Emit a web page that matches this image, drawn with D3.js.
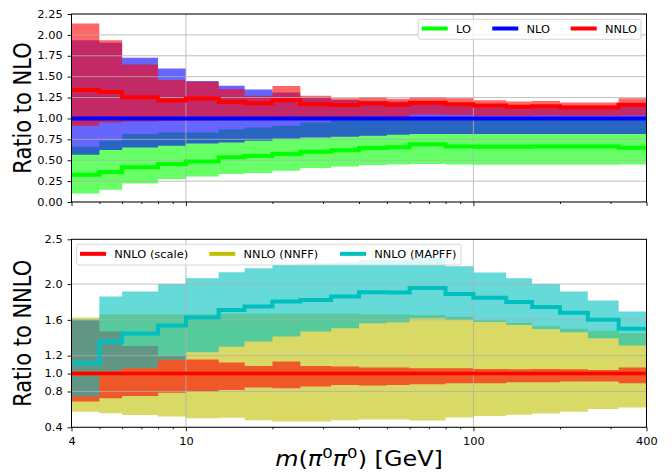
<!DOCTYPE html>
<html><head><meta charset="utf-8">
<script src="https://cdn.jsdelivr.net/npm/d3@7"></script>
<style>body{margin:0;background:#fff}svg{display:block}text{font-family:"DejaVu Sans",sans-serif}</style>
</head><body><svg id="c" width="672" height="475"></svg>
<script>
// ---- data ----
const binEdges = [4,5,6,8,10,13,16,20,25,32,40,50,60,80,100,130,160,200,250,320,400];
// top panel (ratio to NLO)
const loCentral  = [0.325,0.36,0.415,0.455,0.485,0.535,0.55,0.575,0.60,0.62,0.645,0.655,0.69,0.665,0.66,0.662,0.665,0.665,0.665,0.648];
const loLow      = [0.102,0.147,0.222,0.274,0.306,0.334,0.346,0.374,0.406,0.426,0.442,0.45,0.455,0.45,0.445,0.445,0.445,0.445,0.445,0.448];
const loHigh     = [0.661,0.733,0.813,0.833,0.833,0.872,0.892,0.912,0.95,0.99,1.0,1.0,1.0,1.0,1.0,1.0,1.0,1.0,1.0,1.0];
const nloCentral = [1,1,1,1,1,1,1,1,1,1,1,1,1,1,1,1,1,1,1,1];
const nloLow     = [0.565,0.621,0.653,0.673,0.701,0.713,0.733,0.761,0.773,0.781,0.793,0.805,0.813,0.813,0.813,0.813,0.813,0.813,0.813,0.813];
const nloHigh    = [1.937,1.905,1.726,1.598,1.447,1.391,1.347,1.311,1.25,1.22,1.211,1.203,1.21,1.17,1.165,1.16,1.16,1.155,1.155,1.17];
const nnloCentral= [1.339,1.315,1.255,1.215,1.24,1.2,1.183,1.218,1.171,1.16,1.179,1.163,1.187,1.171,1.155,1.139,1.147,1.131,1.131,1.163];
const nnloLow    = [0.912,0.952,0.964,0.972,0.975,0.98,0.99,1.0,1.0,1.01,1.02,1.015,1.045,1.04,1.03,1.03,1.035,1.03,1.03,1.035];
const nnloHigh   = [2.136,1.937,1.646,1.459,1.439,1.351,1.271,1.387,1.271,1.243,1.258,1.235,1.258,1.242,1.218,1.202,1.21,1.19,1.19,1.242];
// bottom panel (ratio to NNLO)
const scaleCentral = [1,1,1,1,1,1,1,1,1,1,1,1,1,1,1,1,1,1,1,1];
const scaleLow   = [0.687,0.724,0.75,0.785,0.8,0.818,0.844,0.836,0.855,0.873,0.866,0.873,0.881,0.892,0.892,0.903,0.903,0.911,0.911,0.892];
const scaleHigh  = [1.595,1.469,1.307,1.197,1.158,1.123,1.085,1.134,1.086,1.078,1.067,1.067,1.06,1.06,1.052,1.048,1.052,1.048,1.041,1.067];
const nnffCentral= [1,1,1,1,1,1,1,1,1,1,1,1,1,1,1,1,1,1,1,1];
const nnffLow    = [0.575,0.557,0.537,0.52,0.501,0.508,0.48,0.464,0.464,0.48,0.486,0.486,0.475,0.51,0.525,0.54,0.555,0.575,0.605,0.622];
const nnffHigh   = [1.626,1.663,1.663,1.663,1.663,1.667,1.667,1.667,1.667,1.667,1.663,1.66,1.655,1.635,1.595,1.568,1.53,1.5,1.478,1.45];
const mapCentral = [1.115,1.358,1.447,1.536,1.626,1.711,1.749,1.804,1.823,1.86,1.909,1.905,1.955,1.89,1.847,1.8,1.745,1.68,1.6,1.5];
const mapLow     = [0.743,1.03,1.06,1.153,1.238,1.30,1.358,1.413,1.469,1.507,1.562,1.574,1.618,1.6,1.575,1.544,1.499,1.462,1.395,1.313];
const mapHigh    = [1.6,1.86,1.916,2.0,2.065,2.132,2.177,2.214,2.233,2.24,2.27,2.27,2.29,2.2,2.128,2.065,2.0,1.916,1.816,1.693];
// ticks
const topYTicks = [0,0.25,0.5,0.75,1.0,1.25,1.5,1.75,2.0,2.25];
const botYTicks = [0.4,0.8,1.0,1.2,1.6,2.0,2.5];
const xMajorTicks = [4,10,100,400];
const xMinorTicks = [5,6,7,8,9,20,30,40,50,60,70,80,90,200,300];
const xGridTicks = [10,100];

// ---- layout ----
const SX = 1.14;
const svg = d3.select('#c');
const xL = 71.5, xR = 646.5;
const x = d3.scaleLog().domain([4,400]).range([xL,xR]);
const nb = binEdges.length - 1;
const idx = d3.range(binEdges.length);
const v = (arr,i) => arr[Math.min(i,nb-1)];

function panel(cfg){
  const {y, top, bottom, clip} = cfg;
  svg.append('clipPath').attr('id',clip).append('rect')
    .attr('x',xL).attr('y',top).attr('width',xR-xL).attr('height',bottom-top);
  const g = svg.append('g').attr('clip-path',`url(#${clip})`);
  cfg.bands.forEach(b=>{
    g.append('path').datum(idx)
      .attr('d', d3.area().x(i=>x(binEdges[i])).y0(i=>y(v(b.lo,i))).y1(i=>y(v(b.hi,i))).curve(d3.curveStepAfter))
      .attr('fill', b.color).attr('fill-opacity', 0.6).attr('stroke','none');
  });
  // grid
  const grid = g.append('g').attr('stroke','#b0b0b0').attr('stroke-width',0.8);
  cfg.yTicks.forEach(t=>grid.append('line').attr('x1',xL).attr('x2',xR).attr('y1',y(t)).attr('y2',y(t)));
  xGridTicks.forEach(t=>grid.append('line').attr('x1',x(t)).attr('x2',x(t)).attr('y1',top).attr('y2',bottom));
  // lines
  cfg.lines.forEach(l=>{
    g.append('path').datum(idx)
      .attr('d', d3.line().x(i=>x(binEdges[i])).y(i=>y(v(l.vals,i))).curve(d3.curveStepAfter))
      .attr('fill','none').attr('stroke',l.color).attr('stroke-width',4);
  });
  // spines
  svg.append('rect').attr('x',xL).attr('y',top).attr('width',xR-xL).attr('height',bottom-top)
    .attr('fill','none').attr('stroke','#000').attr('stroke-width',1);
  // y axis
  const ya = svg.append('g').attr('transform',`translate(${xL},0)`)
    .call(d3.axisLeft(y).tickValues(cfg.yTicks).tickFormat(cfg.fmt).tickSize(4).tickPadding(4.5));
  styleAxis(ya);
  ya.selectAll('text').attr('x', -8.8/SX).attr('transform',`scale(${SX},1)`);
  // x axis
  const xa = svg.append('g').attr('transform',`translate(0,${bottom})`)
    .call(d3.axisBottom(x).tickValues(xMajorTicks).tickFormat(cfg.xLabels ? d3.format('d') : '').tickSize(4).tickPadding(6.6));
  styleAxis(xa);
  xa.selectAll('text').attr('transform',`scale(${SX},1)`);
  const xm = svg.append('g').attr('transform',`translate(0,${bottom})`)
    .call(d3.axisBottom(x).tickValues(xMinorTicks).tickFormat('').tickSize(2));
  styleAxis(xm);
  // y label
  svg.append('text')
    .attr('transform',`translate(31,${(top+bottom)/2}) scale(${SX},1) rotate(-90)`)
    .attr('text-anchor','middle').attr('font-size',21).attr('fill','#000').text(cfg.ylabel);
  // legend
  const lg = cfg.legend;
  svg.append('rect').attr('x',lg.x).attr('y',lg.y).attr('width',lg.w).attr('height',lg.h).attr('rx',2)
    .attr('fill','#fff').attr('fill-opacity',0.8).attr('stroke','#cccccc').attr('stroke-width',0.8);
  lg.items.forEach(it=>{
    svg.append('line').attr('x1',it.x).attr('x2',it.x+26).attr('y1',lg.y+lg.h/2-0.8).attr('y2',lg.y+lg.h/2-0.8)
      .attr('stroke',it.color).attr('stroke-width',4);
    svg.append('text').attr('transform',`translate(${it.x+34.3},${lg.y+lg.h/2+3.6}) scale(${SX},1)`)
      .attr('font-size',10).attr('fill','#000').text(it.label);
  });
}
function styleAxis(a){
  a.select('.domain').remove();
  a.attr('font-family','"DejaVu Sans",sans-serif').attr('font-size',10);
  a.selectAll('line').attr('stroke','#000').attr('stroke-width',0.9);
  a.selectAll('text').attr('fill','#000');
}

const yTop = d3.scaleLinear().domain([0,2.25]).range([202,14]);
const yBot = d3.scaleLinear().domain([0.4,2.5]).range([427.3,239.3]);

panel({
  y: yTop, top: 14, bottom: 202, clip: 'cTop',
  yTicks: topYTicks, fmt: d3.format('.2f'), xLabels: false, ylabel: 'Ratio to NLO',
  bands: [
    {lo: loLow, hi: loHigh, color: '#00ff00'},
    {lo: nloLow, hi: nloHigh, color: '#0000ff'},
    {lo: nnloLow, hi: nnloHigh, color: '#ff0000'}
  ],
  lines: [
    {vals: loCentral, color: '#00ff00'},
    {vals: nloCentral, color: '#0000ff'},
    {vals: nnloCentral, color: '#ff0000'}
  ],
  legend: {x: 418.3, y: 19.3, w: 222.7, h: 20, items: [
    {label:'LO', color:'#00ff00', x:421.7},
    {label:'NLO', color:'#0000ff', x:492.3},
    {label:'NNLO', color:'#ff0000', x:570.7}
  ]}
});

panel({
  y: yBot, top: 239.3, bottom: 427.3, clip: 'cBot',
  yTicks: botYTicks, fmt: d3.format('.1f'), xLabels: true, ylabel: 'Ratio to NNLO',
  bands: [
    {lo: nnffLow, hi: nnffHigh, color: '#bfbf00'},
    {lo: scaleLow, hi: scaleHigh, color: '#ff0000'},
    {lo: mapLow, hi: mapHigh, color: '#00bfbf'}
  ],
  lines: [
    {vals: nnffCentral, color: '#bfbf00'},
    {vals: scaleCentral, color: '#ff0000'},
    {vals: mapCentral, color: '#00bfbf'}
  ],
  legend: {x: 76.7, y: 244.3, w: 384.3, h: 20.7, items: [
    {label:'NNLO (scale)', color:'#ff0000', x:80},
    {label:'NNLO (NNFF)', color:'#bfbf00', x:209.3},
    {label:'NNLO (MAPFF)', color:'#00bfbf', x:340}
  ]}
});

// x label with math-style italics
const xl = svg.append('text')
  .attr('transform',`translate(359,466) scale(${SX},1)`)
  .attr('text-anchor','middle').attr('font-size',21).attr('fill','#000');
xl.append('tspan').attr('font-style','italic').text('m');
xl.append('tspan').text('(');
xl.append('tspan').attr('font-style','italic').text('π');
xl.append('tspan').attr('font-size',14.5).attr('dy',-8).text('0');
xl.append('tspan').attr('font-style','italic').attr('dy',8).text('π');
xl.append('tspan').attr('font-size',14.5).attr('dy',-8).text('0');
xl.append('tspan').attr('dy',8).text(') [GeV]');
</script></body></html>
